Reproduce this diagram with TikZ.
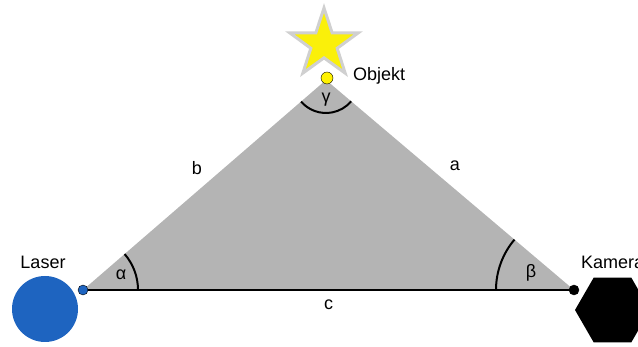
\documentclass[tikz,border=0pt]{standalone}
\usepackage{fontspec}
\setmainfont{Liberation Sans}
\usetikzlibrary{shapes.geometric,angles}
\definecolor{laserblue}{RGB}{30,100,192}
\definecolor{trigray}{RGB}{180,180,180}
\definecolor{staryellow}{RGB}{250,240,10}
\definecolor{starrim}{RGB}{208,208,208}
\tikzset{
  lbl/.style={font=\fontsize{18}{21}\selectfont},
  vertexdot/.style={circle,draw=black,thin,inner sep=0pt,minimum size=10pt},
  anglearc/.style={draw=black,line width=2pt,angle radius=#1},
}
\begin{document}
\begin{tikzpicture}[x=1pt,y=1pt]
\useasboundingbox (0,0) rectangle (638,347);
% triangle corners
\coordinate (L) at (83,57);
\coordinate (K) at (574,57);
\coordinate (O) at (326,267);
\fill[trigray] (L) -- (O) -- (K) -- cycle;
\draw[line width=2pt] (L) -- (K) node[midway,below=5pt,lbl] (c) {c};
% angles
\pic[anglearc=55pt] {angle=K--L--O};
\pic[anglearc=78pt] {angle=O--K--L};
\pic[anglearc=33pt] {angle=L--O--K};
\node[lbl] (alpha) at (121,72) {α};
\node[lbl] (beta) at (531,74) {β};
\node[lbl] (gamma) at (326,247) {γ};
\node[lbl] (b) at (197,179) {b};
\node[lbl] (a) at (455,181) {a};
% devices
\node[circle,fill=laserblue,minimum size=66pt,inner sep=0pt] (laser) at (45,38) {};
\node[lbl] (laserlbl) at (43,85) {Laser};
\node[vertexdot,fill=laserblue] (ldot) at (L) {};
\node[vertexdot,fill=black] (kdot) at (K) {};
\node[regular polygon,regular polygon sides=6,fill=black,minimum size=75pt,inner sep=0pt] (kamera) at (612.5,37) {};
\node[lbl,anchor=west,inner sep=0pt] (kameralbl) at (581,85) {Kamera};
% object
\node[star,star points=5,star point ratio=2.6,fill=staryellow,draw=starrim,line width=3pt,minimum size=72pt,inner sep=0pt] (star) at (324,303) {};
\node[circle,fill=yellow,draw=black,thin,minimum size=12pt,inner sep=0pt] (obj) at (327,269) {};
\node[lbl,anchor=west,inner sep=0pt] (objlbl) at (353,271) {Objekt};
\end{tikzpicture}
\end{document}
